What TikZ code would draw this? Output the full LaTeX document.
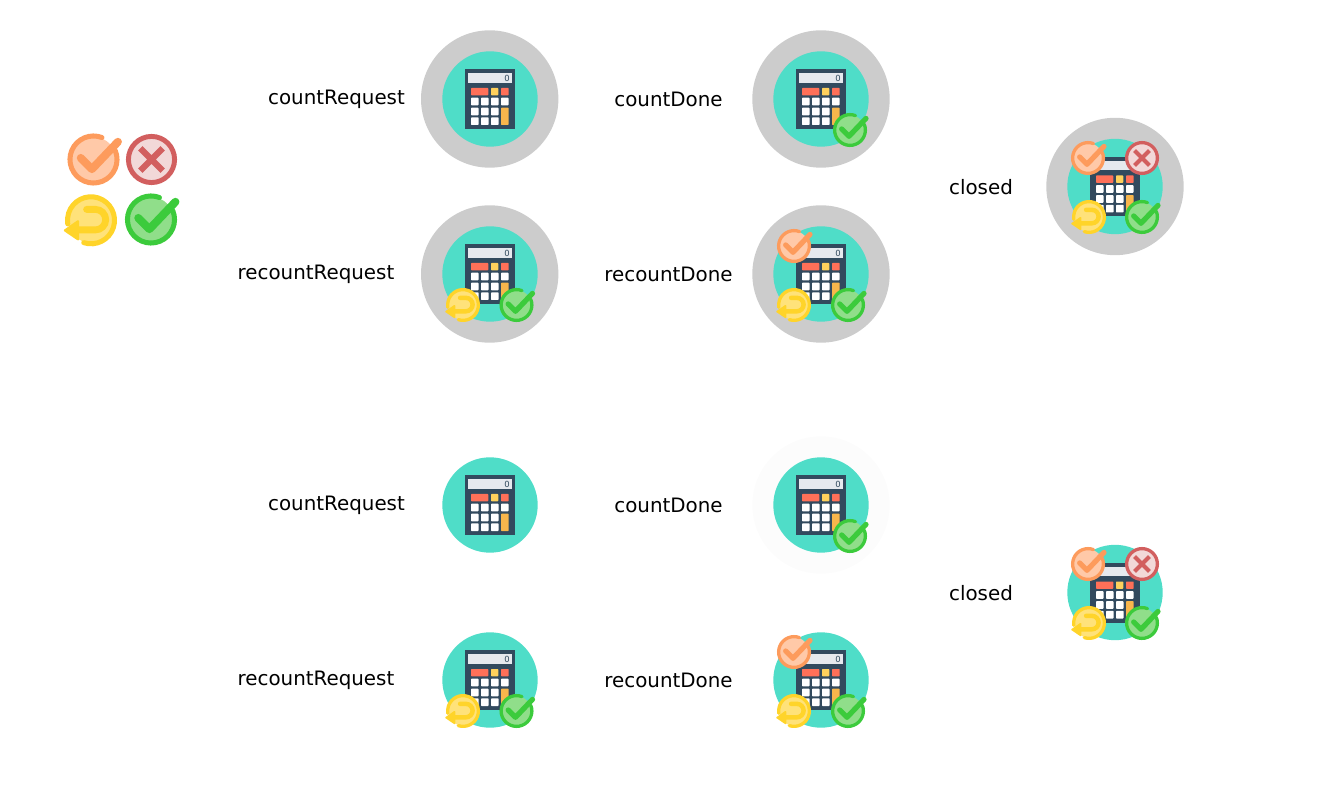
\documentclass[tikz,border=0pt]{standalone}
\usepackage{fontspec}
\setmainfont{DejaVu Sans}
\definecolor{tealdisc}{HTML}{4FDDC8}
\definecolor{greydisc}{HTML}{CCCCCC}
\definecolor{calcbody}{HTML}{324A5E}
\definecolor{calcscreen}{HTML}{E6E9EE}
\definecolor{calcred}{HTML}{FF7058}
\definecolor{calcyellow}{HTML}{FFD15C}
\definecolor{calcorange}{HTML}{F8B64C}
\definecolor{okring}{HTML}{FD9B5C}
\definecolor{okfill}{HTML}{FFC9A8}
\definecolor{noring}{HTML}{D25F5F}
\definecolor{nofill}{HTML}{F2D8D8}
\definecolor{backring}{HTML}{FFD42A}
\definecolor{backfill}{HTML}{FFE27A}
\definecolor{donering}{HTML}{3CCB3C}
\definecolor{donefill}{HTML}{90DE8A}
\tikzset{
  x=0.02cm,y=-0.02cm,
  steplabel/.style={font=\fontsize{11.3}{13}\selectfont,anchor=base,inner sep=0pt,text=black},
  calckey/.style={fill=white,rounded corners=0.4pt},
}
% calculator on its teal disc: x, y
\newcommand{\calcicon}[2]{
  \begin{scope}[shift={(#1,#2)}]
    \fill[tealdisc] (0,0) circle (47.7);
    \fill[calcbody] (-25.3,-29.7) rectangle (24.7,30);
    \fill[calcscreen] (-22,-25.7) rectangle (22,-16.3);
    \node[inner sep=0pt,text=calcbody,font=\fontsize{4.8}{5}\selectfont] (zero-#1-#2) at (17,-21) {0};
    \fill[calcred,rounded corners=0.4pt] (-19,-11) rectangle (-1.7,-3.7);
    \fill[calcyellow,rounded corners=0.4pt] (1,-11) rectangle (8.3,-3.7);
    \fill[calcred,rounded corners=0.4pt] (11,-11) rectangle (18.7,-3.7);
    \foreach \keyx in {-19,-9,1,11} \fill[calckey] (\keyx,-1.3) rectangle +(7.5,7.6);
    \foreach \keyx in {-19,-9,1} {
      \fill[calckey] (\keyx,8.7) rectangle +(7.5,7.6);
      \fill[calckey] (\keyx,18.3) rectangle +(7.5,7.7);
    }
    \fill[calcorange,rounded corners=0.4pt] (11,8.7) rectangle (18.7,26);
  \end{scope}
}
% badges: x, y, radius
\newcommand{\tickbadge}[5]{
  \begin{scope}[shift={(#1,#2)},scale=#3]
    \fill[#5] (0,0) circle (0.87);
    \draw[#4,line width=#3*0.11pt,line cap=round] (-22:0.905) arc (-22:291:0.905);
    \draw[#4,line width=#3*0.175pt,line cap=round,line join=round] (-0.49,-0.06) -- (-0.06,0.37) -- (0.94,-0.68);
  \end{scope}
}
\newcommand{\okbadge}[3]{\tickbadge{#1}{#2}{#3}{okring}{okfill}}
\newcommand{\donebadge}[3]{\tickbadge{#1}{#2}{#3}{donering}{donefill}}
\newcommand{\nobadge}[3]{
  \begin{scope}[shift={(#1,#2)},scale=#3]
    \fill[nofill] (0,0) circle (0.87);
    \draw[noring,line width=#3*0.11pt] (0,0) circle (0.905);
    \draw[noring,line width=#3*0.14pt] (-0.44,-0.44) -- (0.44,0.44) (-0.44,0.44) -- (0.44,-0.44);
  \end{scope}
}
\newcommand{\backbadge}[3]{
  \begin{scope}[shift={(#1,#2)},scale=#3]
    \fill[backfill] (0,0) circle (0.87);
    \draw[backring,line width=#3*0.11pt,line cap=round] (108:0.905) arc (108:-189:0.905);
    \draw[backring,line width=#3*0.15pt,line cap=round] (-0.17,-0.42) -- (0.17,-0.42) arc (-90:90:0.395) -- (-0.49,0.37);
    \fill[backring,draw=backring,line width=#3*0.05pt,line join=round] (-1.0,0.39) -- (-0.5,0.04) -- (-0.5,0.73) -- cycle;
  \end{scope}
}
\begin{document}
\begin{tikzpicture}
  \useasboundingbox (0,0) rectangle (1318,803);

  \okbadge{93.5}{159.5}{26}
  \nobadge{151.5}{159.5}{25.5}
  \backbadge{91}{220.3}{26}
  \donebadge{151}{219.5}{26}

  \fill[greydisc] (489.7,99) circle (68.7);
  \fill[greydisc] (489.7,274) circle (68.7);
  \fill[greydisc] (821,99) circle (68.7);
  \fill[greydisc] (821,274) circle (68.7);
  \fill[greydisc] (1115,186.5) circle (68.7);
  \fill[black!1] (821,505) circle (68.7);

  \calcicon{490}{99}
  \calcicon{490}{274}
  \calcicon{821}{99}
  \calcicon{821}{274}
  \calcicon{1115}{186.5}
  \calcicon{490}{505}
  \calcicon{490}{680}
  \calcicon{821}{505}
  \calcicon{821}{680}
  \calcicon{1115}{592.5}

  \node[steplabel] (countreqa) at (336.5,105) {countRequest};
  \node[steplabel] (recountreqa) at (316,280) {recountRequest};
  \node[steplabel] (countdonea) at (668.5,107) {countDone};
  \node[steplabel] (recountdonea) at (668.5,282) {recountDone};
  \node[steplabel] (closeda) at (981,195) {closed};
  \node[steplabel] (countreqb) at (336.5,510) {countRequest};
  \node[steplabel] (recountreqb) at (316,685) {recountRequest};
  \node[steplabel] (countdoneb) at (668.5,512) {countDone};
  \node[steplabel] (recountdoneb) at (668.5,687) {recountDone};
  \node[steplabel] (closedb) at (981,600) {closed};

  \donebadge{850}{130}{17}

  \backbadge{463}{305}{17}
  \donebadge{516.5}{305}{17}

  \okbadge{794}{246}{17}
  \backbadge{794}{305}{17}
  \donebadge{848}{305}{17}

  \okbadge{1088}{158}{17}
  \nobadge{1142}{158}{17}
  \backbadge{1089}{217}{17}
  \donebadge{1142}{217}{17}

  \donebadge{850}{536}{17}

  \backbadge{463}{711}{17}
  \donebadge{516.5}{711}{17}

  \okbadge{794}{652}{17}
  \backbadge{794}{711}{17}
  \donebadge{848}{711}{17}

  \okbadge{1088}{564}{17}
  \nobadge{1142}{564}{17}
  \backbadge{1089}{623}{17}
  \donebadge{1142}{623}{17}
\end{tikzpicture}
\end{document}
